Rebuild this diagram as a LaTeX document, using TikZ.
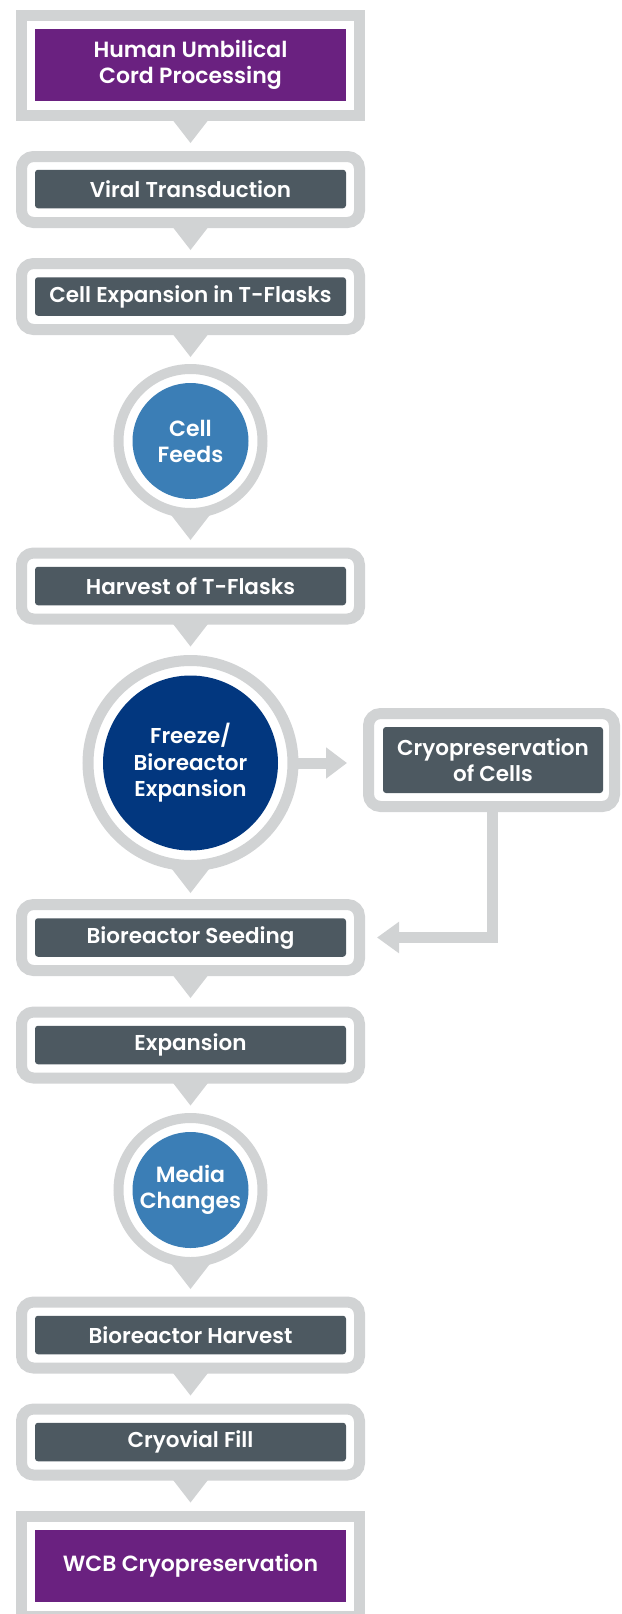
\documentclass[tikz,border=0pt]{standalone}
\usepackage{fontspec}
\setmainfont{Poppins}[UprightFont={* SemiBold},BoldFont={* Bold}]
\usetikzlibrary{calc,arrows.meta}
\definecolor{lgray}{HTML}{D1D3D4}
\definecolor{purp}{HTML}{6A2180}
\definecolor{slate}{HTML}{4D5961}
\definecolor{lblue}{HTML}{3B7EB6}
\definecolor{navy}{HTML}{02377F}
\tikzset{
  frame/.style={draw=lgray, fill=white, line width=11pt, rounded corners=12pt,
    minimum width=338pt, minimum height=66pt, inner sep=0pt},
  sqframe/.style={draw=lgray, fill=white, line width=11pt,
    minimum width=338pt, minimum height=100pt, inner sep=0pt},
  stepbox/.style={fill=slate, rounded corners=3pt, text=white, minimum width=311pt,
    minimum height=38.5pt, inner sep=0pt, align=center, font=\fontsize{21.5}{26}\selectfont},
  endbox/.style={fill=purp, text=white, minimum width=311pt,
    minimum height=72pt, inner sep=0pt, align=center, font=\fontsize{22}{26}\selectfont},
  ring/.style={circle, draw=lgray, fill=white, line width=10pt, minimum size=144pt, inner sep=0pt},
  bigring/.style={circle, draw=lgray, fill=white, line width=11pt, minimum size=205pt, inner sep=0pt},
  disc/.style={circle, fill=lblue, text=white, minimum size=116pt, inner sep=0pt,
    align=center, font=\fontsize{22}{26}\selectfont},
  bigdisc/.style={circle, fill=navy, text=white, minimum size=175pt, inner sep=0pt,
    align=center, font=\fontsize{21.5}{26.5}\selectfont},
  link/.style={draw=lgray, line width=11pt, miter limit=10}
}
\newcommand\downtri[1]{\fill[lgray] ($(#1.south)+(-24,-9)$) -- ($(#1.south)+(24,-9)$) -- ($(#1.south)+(0,22)$) -- cycle;}
\begin{document}
\begin{tikzpicture}[x=1pt,y=-1pt]
\useasboundingbox (0,0) rectangle (621,1614);
\clip (0,0) rectangle (621,1614);
% top
\node[sqframe] (f1) at (190.5,65.5) {};
\node[endbox] (n1) at (190.5,65) {Human Umbilical\\Cord Processing};
\node[frame] (f2) at (190.5,189.5) {};
\node[stepbox] (n2) at (190.5,189) {Viral Transduction};
\node[frame] (f3) at (190.5,296.5) {};
\node[stepbox] (n3) at (190.5,296.5) {Cell Expansion in T-Flasks};
\node[ring] (f4) at (190.5,441) {};
\node[disc] (n4) at (190.5,441) {Cell\\Feeds};
\node[frame] (f5) at (190.5,586) {};
\node[stepbox] (n5) at (190.5,586) {Harvest of T-Flasks};
\node[bigring] (f6) at (190.5,763) {};
\node[bigdisc] (n6) at (190.5,763) {Freeze/\\Bioreactor\\Expansion};
\node[frame, minimum width=246pt, minimum height=93pt] (f7) at (491.5,760) {};
\node[stepbox, minimum width=220pt, minimum height=66pt] (n7) at (493,760) {Cryopreservation\\of Cells};
\node[frame] (f8) at (190.5,937.5) {};
\node[stepbox] (n8) at (190.5,937.5) {Bioreactor Seeding};
\node[frame] (f9) at (190.5,1045) {};
\node[stepbox] (n9) at (190.5,1045) {Expansion};
\node[ring] (f10) at (190.5,1190) {};
\node[disc] (n10) at (190.5,1190) {Media\\Changes};
\node[frame] (f11) at (190.5,1335) {};
\node[stepbox] (n11) at (190.5,1335) {Bioreactor Harvest};
\node[frame] (f12) at (190.5,1442) {};
\node[stepbox] (n12) at (190.5,1442) {Cryovial Fill};
\node[sqframe] (f13) at (190.5,1566.5) {};
\node[endbox] (n13) at (190.5,1566) {WCB Cryopreservation};
% connectors
\downtri{f1}\downtri{f2}\downtri{f3}\downtri{f4}\downtri{f5}\downtri{f6}
\downtri{f8}\downtri{f9}\downtri{f10}\downtri{f11}\downtri{f12}
\draw[link, -{Triangle[length=21pt,width=30pt]}, shorten <=-3pt, shorten >=16pt]
  (f6.east) -- (f6.east -| f7.west);
\draw[link, -{Triangle[length=22pt,width=30pt]}, shorten >=12pt, shorten <=-3pt]
  ($(f7.south)+(1,0)$) |- (f8.east);
\end{tikzpicture}
\end{document}
